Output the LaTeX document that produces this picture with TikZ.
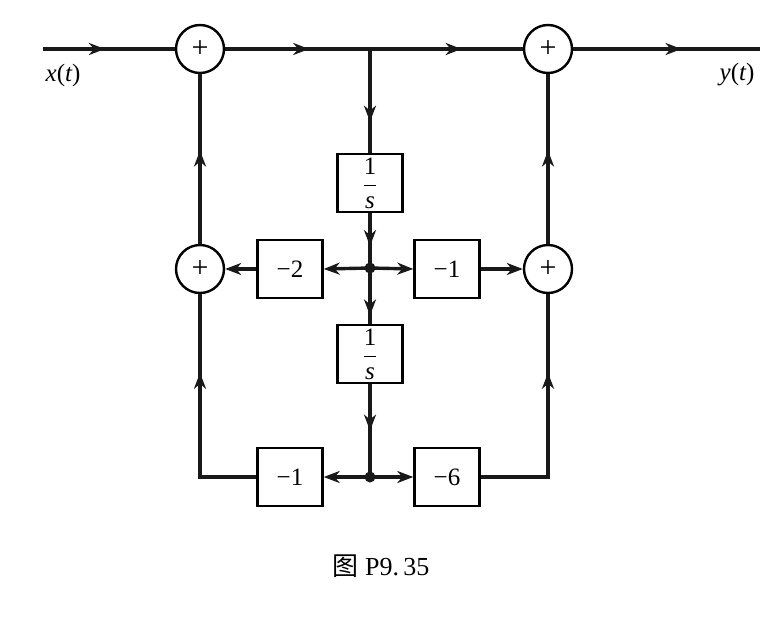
\documentclass[tikz,border=0pt]{standalone}
\usepackage{fontspec}
\setmainfont{Liberation Serif}
\newfontfamily\cjk{Noto Sans CJK SC}
\usetikzlibrary{arrows.meta,decorations.markings}
\begin{document}
\begin{tikzpicture}[x=1pt,y=-1pt,
  font=\fontsize{25}{29}\selectfont,
  wire/.style={line width=3.4pt, draw=black!90},
  tip/.style={-{Stealth[length=16pt,width=12pt,inset=5pt]}},
  midarrow/.style={postaction={decorate}, decoration={markings,
     mark=at position #1 with {\arrow{Stealth[length=16pt,width=12pt,inset=5pt]}}}},
  midarrow/.default=0.5,
  summer/.style={circle, draw, line width=2.4pt, minimum size=48pt, inner sep=0pt, fill=white, font=\fontsize{30}{30}\selectfont},
  gainbox/.style={rectangle, draw, line width=2.4pt, minimum width=65pt, minimum height=58pt, inner sep=0pt, fill=white},
  junction/.style={circle, fill=black!90, minimum size=11pt, inner sep=0pt}]
\useasboundingbox (0,0) rectangle (778,616);
% coordinates
\coordinate (in) at (43,49);
\coordinate (out) at (760,49);
\coordinate (b) at (370,49);
\coordinate (c1) at (200,477);
\coordinate (c2) at (548,477);
% nodes
\node[summer] (s1) at (200,49) {+};
\node[summer] (s2) at (548,49) {+};
\node[summer] (s3) at (200,269) {+};
\node[summer] (s4) at (548,269) {+};
\node[gainbox] (i1) at (370,183) {$\displaystyle\frac{\hbox{1}}{\hbox{\itshape s}}$};
\node[gainbox] (i2) at (370,354) {$\displaystyle\frac{\hbox{1}}{\hbox{\itshape s}}$};
\node[gainbox] (g2) at (290,269) {−2};
\node[gainbox] (g1) at (447,269) {−1};
\node[gainbox] (g3) at (290,477) {−1};
\node[gainbox] (g6) at (447,477) {−6};
\coordinate (d1) at (370,268);
\coordinate (d2) at (370,477);
% top line
\draw[wire, midarrow=0.47] (in) -- (s1.west);
\draw[wire, midarrow=0.58] (s1.east) -- (b);
\draw[wire, midarrow=0.6] (b) -- (s2.west);
\draw[wire, midarrow=0.58] (s2.east) -- (out);
% central chain
\draw[wire, midarrow=0.7] (b) -- (i1.north);
\draw[wire, midarrow=0.6] (i1.south) -- (d1);
\draw[wire, midarrow=0.85] (d1) -- (i2.north);
\draw[wire, midarrow=0.5] (i2.south) -- (d2);
% middle branches
\draw[wire, tip] (d1) -- (g2.east);
\draw[wire, tip] (g2.west) -- (s3.east);
\draw[wire, tip] (d1) -- (g1.west);
\draw[wire, tip] (g1.east) -- (s4.west);
% bottom branches
\draw[wire, tip] (d2) -- (g3.east);
\draw[wire, tip] (d2) -- (g6.west);
\draw[wire, line join=miter] (g3.west) -- (c1) -- (s3.south);
\draw[wire, midarrow=0.57] (c1) -- (s3.south);
\draw[wire, line join=miter] (g6.east) -- (c2) -- (s4.south);
\draw[wire, midarrow=0.57] (c2) -- (s4.south);
% verticals up
\draw[wire, midarrow=0.55] (s3.north) -- (s1.south);
\draw[wire, midarrow=0.55] (s4.north) -- (s2.south);
% junction dots
\node[junction] (j1) at (d1) {};
\node[junction] (j2) at (d2) {};
% labels
\node (xl) at (63,75) {\itshape x\upshape(\itshape t\upshape)};
\node (yl) at (737,75) {\itshape y\upshape(\itshape t\upshape)};
\node (cap) at (381,566) {\fontsize{26}{30}\selectfont{\cjk 图} P9.\,35};
\end{tikzpicture}
\end{document}
